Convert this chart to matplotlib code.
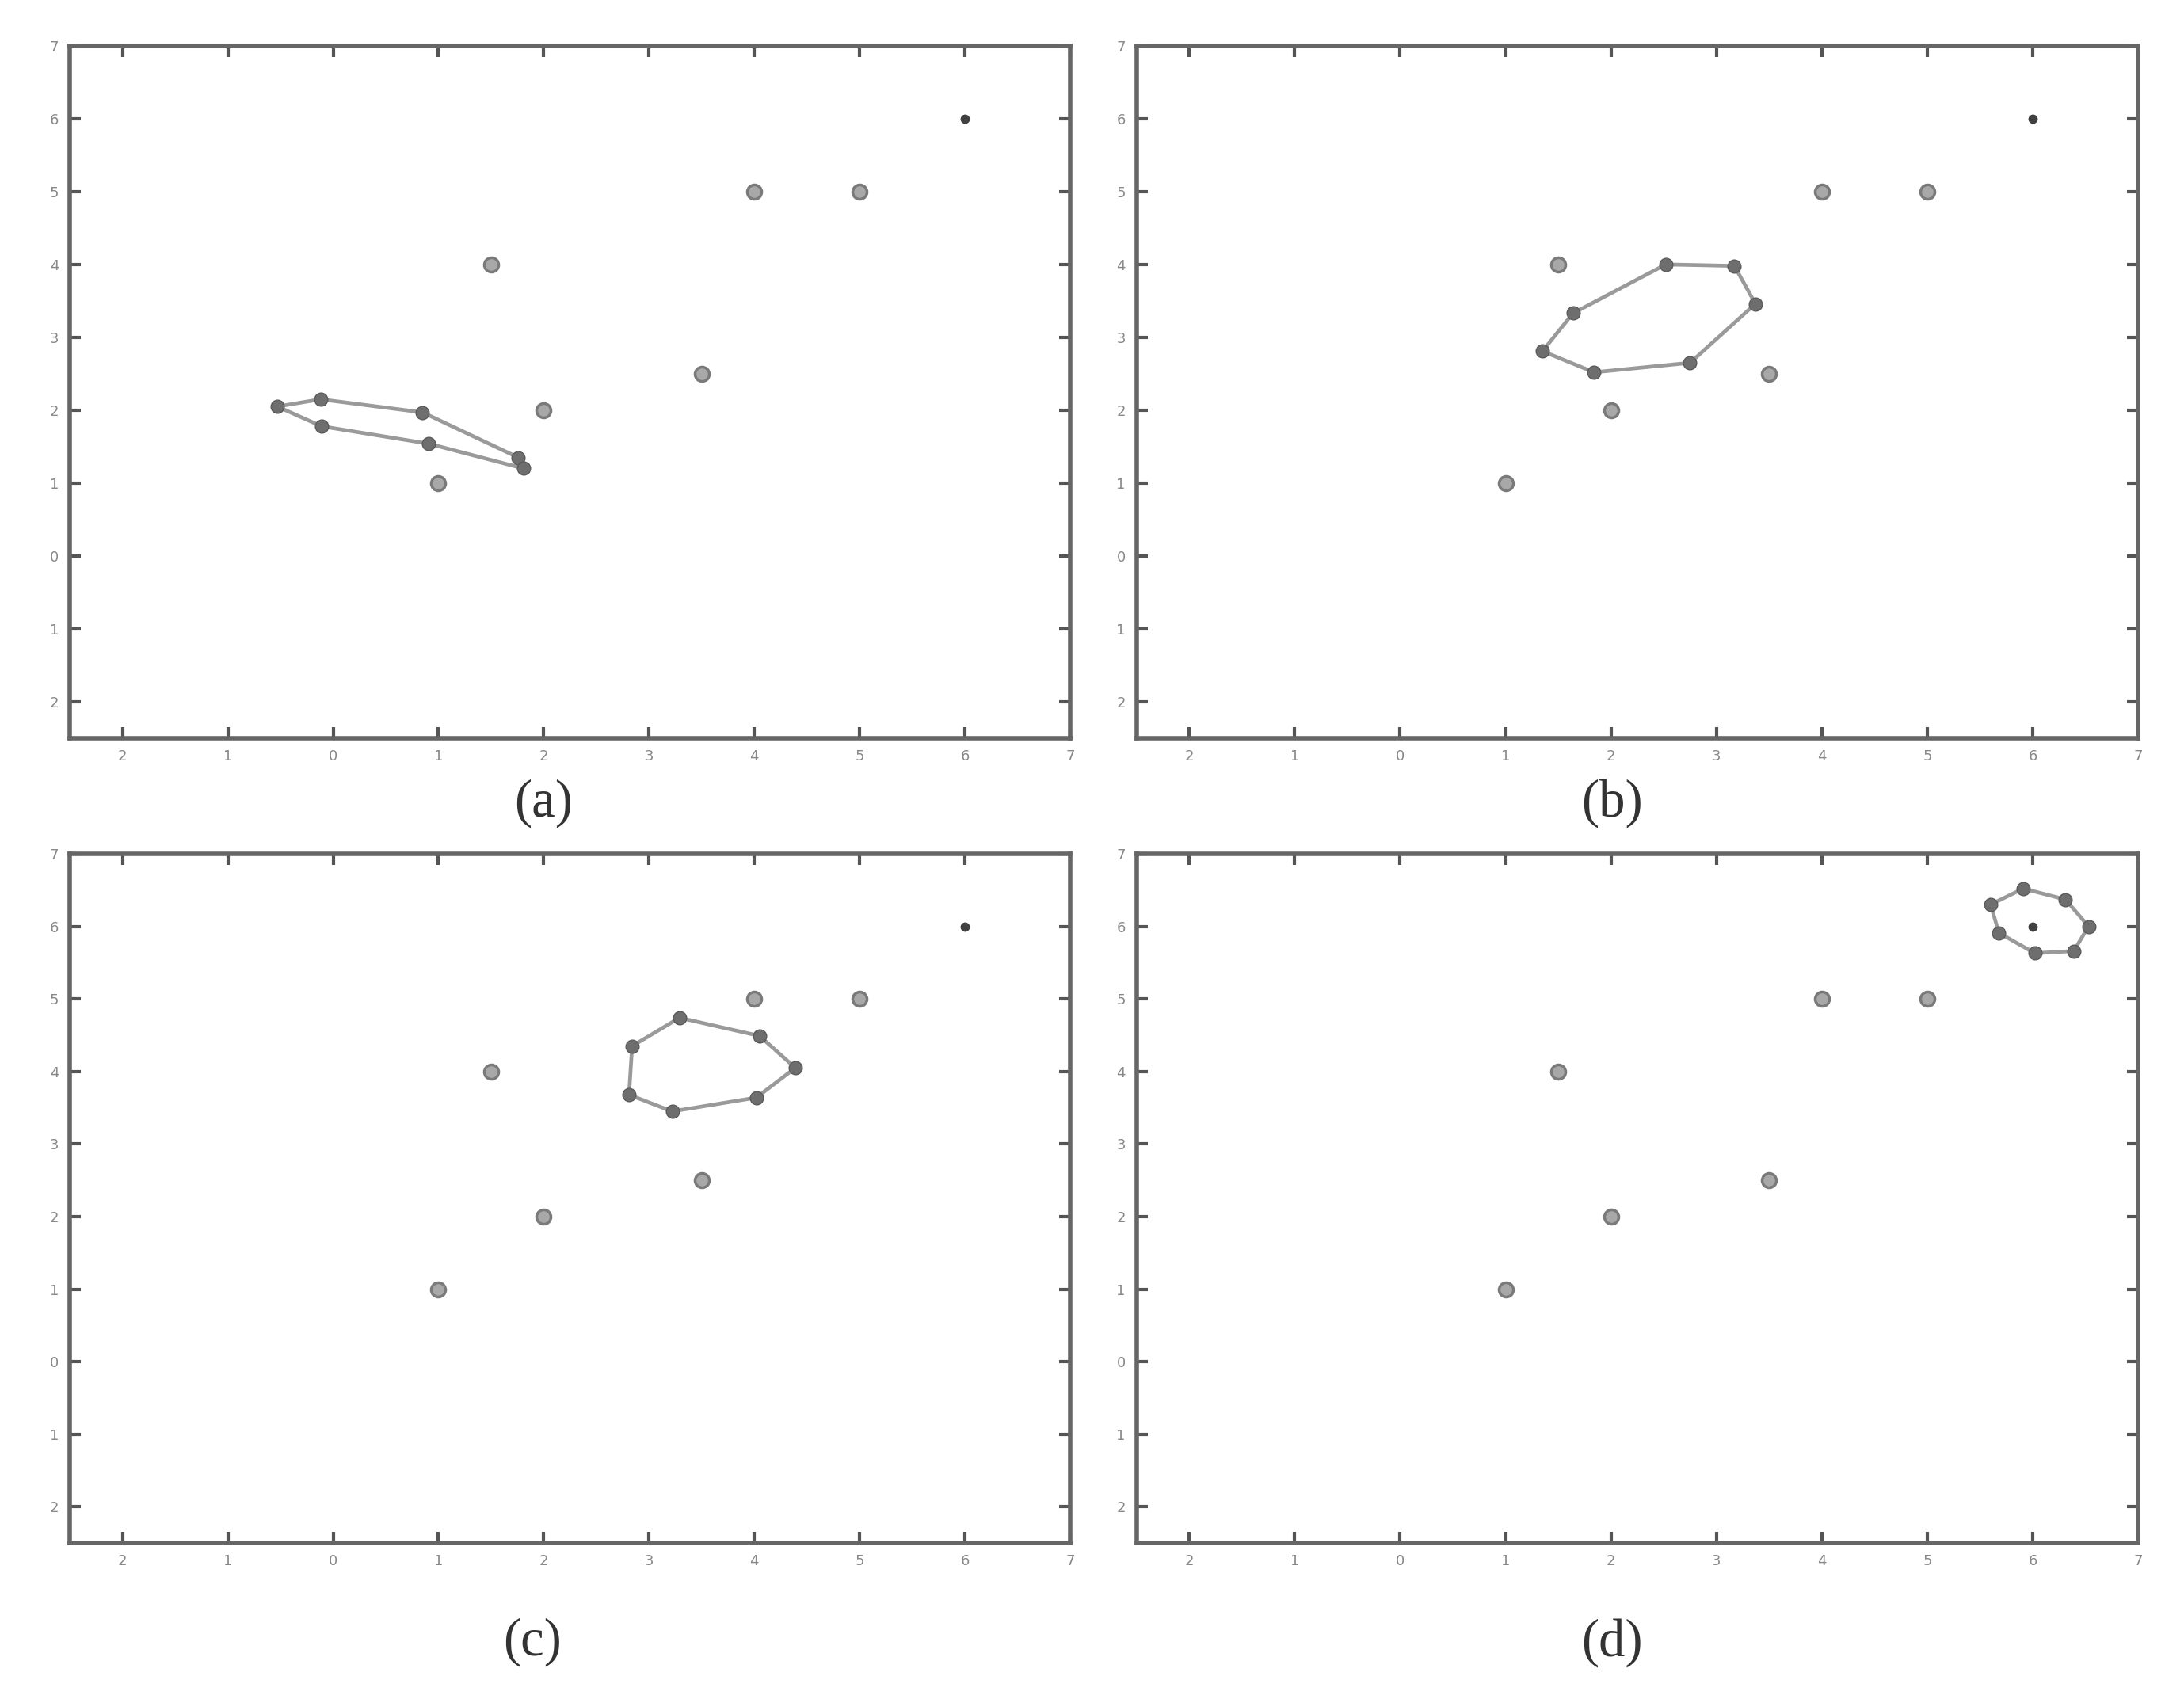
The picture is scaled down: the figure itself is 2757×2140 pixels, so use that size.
import matplotlib
matplotlib.use("Agg")
import matplotlib.pyplot as plt

# common data points (the (6,6) one is drawn as a small dark dot)
pts_x = [1, 1.5, 2, 3.5, 4, 5]
pts_y = [1, 4, 2, 2.5, 5, 5]
centre_x = [6]
centre_y = [6]

# polygon vertices
poly_a_x = [-0.53, -0.12, 0.85, 1.76, 1.81, 0.91, -0.11]
poly_a_y = [2.05, 2.15, 1.97, 1.35, 1.20, 1.54, 1.78]

poly_b_x = [1.35, 1.64, 2.52, 3.17, 3.37, 2.75, 1.84]
poly_b_y = [2.81, 3.33, 4.00, 3.98, 3.46, 2.65, 2.52]

poly_c_x = [3.29, 4.05, 4.39, 4.02, 3.22, 2.81, 2.84]
poly_c_y = [4.74, 4.49, 4.05, 3.64, 3.45, 3.68, 4.35]

poly_d_x = [5.91, 6.31, 6.53, 6.39, 6.02, 5.68, 5.60]
poly_d_y = [6.52, 6.37, 6.00, 5.66, 5.63, 5.91, 6.30]

ticks = [-2, -1, 0, 1, 2, 3, 4, 5, 6, 7]
tick_labels = ["2", "1", "0", "1", "2", "3", "4", "5", "6", "7"]
panel_labels = ["(a)", "(b)", "(c)", "(d)"]

fig = plt.figure(figsize=(27.57, 21.40), dpi=100)

# [left, bottom, width, height] for each panel
boxes = [
    [0.032, 0.5645, 0.458, 0.4085],
    [0.5204, 0.5645, 0.4586, 0.4085],
    [0.032, 0.0896, 0.458, 0.4067],
    [0.5204, 0.0896, 0.4586, 0.4067],
]
label_pos = [(0.2487, 0.526), (0.738, 0.526), (0.2437, 0.031), (0.738, 0.031)]
polys = [(poly_a_x, poly_a_y), (poly_b_x, poly_b_y),
         (poly_c_x, poly_c_y), (poly_d_x, poly_d_y)]

for i in range(4):
    ax = fig.add_axes(boxes[i])
    px, py = polys[i]
    ax.plot(px + [px[0]], py + [py[0]], '-', color='#9a9a9a', lw=3.4, zorder=2)
    ax.plot(px, py, 'o', color='#6e6e6e', mec='#5a5a5a', ms=12, zorder=3)
    ax.plot(pts_x, pts_y, 'o', color='#a8a8a8', mec='#7a7a7a', mew=2.5, ms=13, zorder=3)
    ax.plot(centre_x, centre_y, 'o', color='#404040', ms=7.5, zorder=4)

    ax.set_xlim(-2.5, 7)
    ax.set_ylim(-2.5, 7)
    ax.set_xticks(ticks)
    ax.set_xticklabels(tick_labels)
    ax.set_yticks(ticks)
    ax.set_yticklabels(tick_labels)
    ax.tick_params(direction='in', length=10, width=3, color='#555555',
                   labelsize=13, labelcolor='#888888', top=True, right=True, pad=10)
    for s in ax.spines.values():
        s.set_linewidth(4)
        s.set_color('#666666')

    fig.text(label_pos[i][0], label_pos[i][1], panel_labels[i],
             family='Liberation Serif', fontsize=48, color='#333333',
             ha='center', va='center')

fig.savefig("out.png", dpi=100, facecolor='white')
